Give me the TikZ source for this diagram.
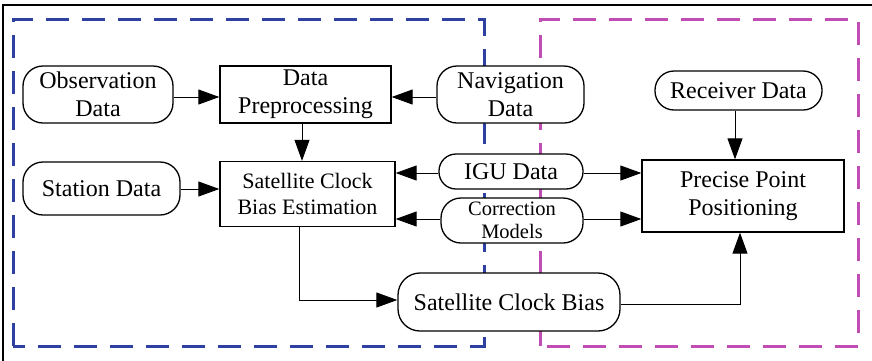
\documentclass[tikz,border=0pt]{standalone}
\usepackage{fontspec}
\setmainfont{Liberation Serif}
\usetikzlibrary{arrows.meta}
\definecolor{dblue}{RGB}{46,64,162}
\definecolor{dmag}{RGB}{192,76,180}
\tikzset{
  box/.style={draw, line width=1.3pt, fill=white, align=center, inner sep=0pt, font=\fontsize{24}{28}\selectfont},
  pill/.style={box, rounded corners=#1},
  conn/.style={line width=0.9pt, -{Triangle[length=21pt,width=15pt]}},
  region/.style={line width=3pt, dash pattern=on 23pt off 13pt}
}
\begin{document}
\begin{tikzpicture}[x=1pt,y=-1pt]
\useasboundingbox (0,0) rectangle (872,360);
% outer frame (top and left visible)
\draw[line width=1.6pt] (3,362) -- (3,5) -- (874,5);
% regions
\draw[region, dblue] (13,346) -- (13,19) -- (484,19) -- (484,346) -- cycle;
\draw[region, dmag] (540,346) -- (540,19) -- (858,19) -- (858,346) -- cycle;
% nodes
\node[pill=20pt, minimum width=150pt, minimum height=57pt] (obs) at (98,94.5) {Observation\\Data};
\node[box, minimum width=171pt, minimum height=57pt] (prep) at (305.5,94.5) {Data\\Preprocessing};
\node[pill=20pt, minimum width=147pt, minimum height=57pt] (nav) at (510.5,94.5) {Navigation\\Data};
\node[pill=19pt, minimum width=167pt, minimum height=39pt] (rec) at (738.5,90.5) {Receiver Data};
\node[pill=20pt, minimum width=157pt, minimum height=53pt] (sta) at (101.5,188.5) {Station Data};
\node[box, minimum width=175pt, minimum height=65pt, font=\fontsize{22}{26}\selectfont] (scbe) at (307.5,194) {Satellite Clock\\Bias Estimation};
\node[pill=17pt, minimum width=144pt, minimum height=35pt] (igu) at (511,171.5) {IGU Data};
\node[pill=20pt, minimum width=142pt, minimum height=45pt, font=\fontsize{20.5}{23}\selectfont] (cor) at (512,220.5) {Correction\\Models};
\node[box, minimum width=202pt, minimum height=72pt] (ppp) at (743,196) {Precise Point\\Positioning};
\node[pill=22pt, minimum width=222pt, minimum height=58pt] (scb) at (509,302) {Satellite Clock Bias};
% connectors
\draw[conn] (obs.east |- 0,97) -- (prep.west |- 0,97);
\draw[conn] (nav.west |- 0,97) -- (prep.east |- 0,97);
\draw[conn] (prep.south -| 302,0) -- (scbe.north -| 302,0);
\draw[conn] (sta.east |- 0,189) -- (scbe.west |- 0,189);
\draw[conn] (igu.west |- 0,173) -- (scbe.east |- 0,173);
\draw[conn] (igu.east |- 0,173) -- (ppp.west |- 0,173);
\draw[conn] (cor.west |- 0,219) -- (scbe.east |- 0,219);
\draw[conn] (cor.east |- 0,219) -- (ppp.west |- 0,219);
\draw[conn] (rec.south -| 735,0) -- (ppp.north -| 735,0);
\draw[conn] (scbe.south -| 299,0) |- (scb.west |- 0,300);
\draw[conn] (scb.east |- 0,304) -| (ppp.south -| 740,0);
\end{tikzpicture}
\end{document}
